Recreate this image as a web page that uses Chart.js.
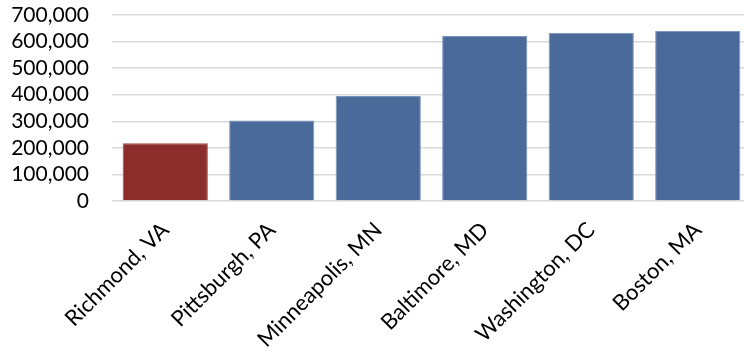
<!DOCTYPE html>
<html>
<head>
<meta charset="utf-8">
<script src="https://cdn.jsdelivr.net/npm/chart.js@4"></script>
<style>
html,body{margin:0;padding:0;overflow:hidden;background:#fff;}
#wrap{width:751px;height:356px;position:relative;}
</style>
</head>
<body>
<div id="wrap"><canvas id="c" width="751" height="356"></canvas></div>
<script>
const categories = ["Richmond, VA", "Pittsburgh, PA", "Minneapolis, MN", "Baltimore, MD", "Washington, DC", "Boston, MA"];
const values = [217000, 303000, 395000, 621000, 633000, 640000];
const barColors = ["#8B2D2B", "#4A6A99", "#4A6A99", "#4A6A99", "#4A6A99", "#4A6A99"];
const barBorders = ["#9a4a48", "#7b95bd", "#7b95bd", "#7b95bd", "#7b95bd", "#7b95bd"];
const yMin = 0, yMax = 700000, yStep = 100000;

new Chart(document.getElementById('c'), {
  type: 'bar',
  data: {
    labels: categories,
    datasets: [{
      data: values,
      backgroundColor: barColors,
      borderColor: barBorders,
      borderWidth: 1,
      categoryPercentage: 1.0,
      barPercentage: 0.8
    }]
  },
  options: {
    responsive: false,
    animation: false,
    layout: { padding: 0 },
    plugins: { legend: { display: false }, tooltip: { enabled: false } },
    scales: {
      x: {
        grid: { display: false, drawTicks: false },
        border: { display: false },
        ticks: {
          color: '#000', font: { family: 'Lato', size: 22 },
          maxRotation: 45, minRotation: 45, autoSkip: false, padding: 16
        },
        afterFit: function(s){ s.height = 155; s.paddingLeft = 0; s.paddingRight = 0; }
      },
      y: {
        min: yMin, max: yMax,
        grid: { color: '#d9d9d9', lineWidth: 1.5, drawTicks: false },
        border: { display: false },
        ticks: {
          stepSize: yStep, color: '#000', font: { family: 'Lato', size: 21 }, padding: 23,
          autoSkip: false,
          callback: v => v.toLocaleString('en-US')
        },
        afterFit: function(s){ s.width = 112; s.paddingTop = 15; s.paddingBottom = 0; }
      }
    }
  }
});
</script>
</body>
</html>
